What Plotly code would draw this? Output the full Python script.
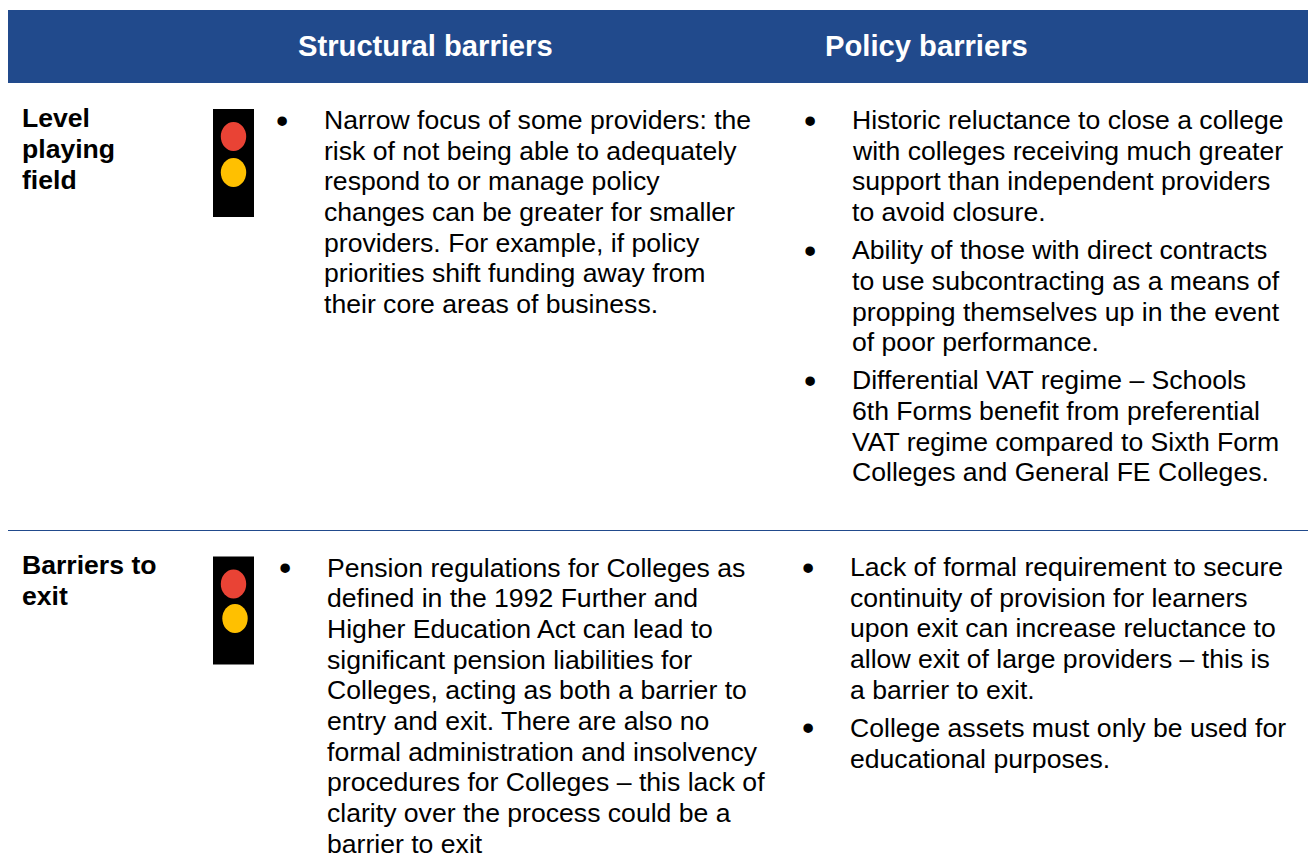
import plotly.graph_objects as go

HEADERS = ["Structural barriers", "Policy barriers"]
ROW_LABELS = [["Level", "playing", "field"], ["Barriers to", "exit"]]

STRUCT_1 = [["Narrow focus of some providers: the", "risk of not being able to adequately",
             "respond to or manage policy", "changes can be greater for smaller",
             "providers. For example, if policy", "priorities shift funding away from",
             "their core areas of business."]]
POLICY_1 = [["Historic reluctance to close a college", "with colleges receiving much greater",
             "support than independent providers", "to avoid closure."],
            ["Ability of those with direct contracts", "to use subcontracting as a means of",
             "propping themselves up in the event", "of poor performance."],
            ["Differential VAT regime \u2013 Schools", "6th Forms benefit from preferential",
             "VAT regime compared to Sixth Form", "Colleges and General FE Colleges."]]
STRUCT_2 = [["Pension regulations for Colleges as", "defined in the 1992 Further and",
             "Higher Education Act can lead to", "significant pension liabilities for",
             "Colleges, acting as both a barrier to", "entry and exit. There are also no",
             "formal administration and insolvency", "procedures for Colleges \u2013 this lack of",
             "clarity over the process could be a", "barrier to exit"]]
POLICY_2 = [["Lack of formal requirement to secure", "continuity of provision for learners",
             "upon exit can increase reluctance to", "allow exit of large providers \u2013 this is",
             "a barrier to exit."],
            ["College assets must only be used for", "educational purposes."]]

# layout constants (pixel space of the page)
W, H = 1308, 867
FONT = "Liberation Sans"
BLUE = "#214A8C"
RED = "#E94335"
AMBER = "#FFC000"
BODY = 26.6
HEAD = 29.2
PITCH = 30.65
GROUP_GAP = 7.6

fig = go.Figure()
shapes = [dict(type="rect", x0=8, x1=1308, y0=10, y1=83, fillcolor=BLUE, line_width=0),
          dict(type="line", x0=8, x1=1308, y0=530.5, y1=530.5, line=dict(color=BLUE, width=1.2))]
ann = []

def text(x, y, s, size=BODY, bold=False, color="#000000"):
    ann.append(dict(x=x, y=y, text=f"<b>{s}</b>" if bold else s, showarrow=False,
                    xanchor="left", yanchor="middle", xref="x", yref="y",
                    font=dict(family=FONT, size=size, color=color),
                    borderpad=0, borderwidth=0, align="left"))

def light(y0, red, amber):
    shapes.append(dict(type="rect", x0=213, x1=254, y0=y0, y1=y0 + 108, fillcolor="#000000", line_width=0))
    for (cx, cy), c in ((red, RED), (amber, AMBER)):
        shapes.append(dict(type="circle", x0=cx - 12.7, x1=cx + 12.7, y0=cy - 14.5, y1=cy + 14.5,
                           fillcolor=c, line_width=0))

def bullets(groups, bx, tx, y):
    for g in groups:
        text(bx, y, "\u2022", size=35)
        for line in g:
            text(tx, y, line)
            y += PITCH
        y += GROUP_GAP

text(298, 46, HEADERS[0], size=HEAD, bold=True, color="#FFFFFF")
text(825, 46, HEADERS[1], size=HEAD, bold=True, color="#FFFFFF")

for i, s in enumerate(ROW_LABELS[0]):
    text(22, 118 + i * 31, s, bold=True)
for i, s in enumerate(ROW_LABELS[1]):
    text(22, 565 + i * 31, s, bold=True)

light(109, (233.5, 136.5), (233.5, 172.5))
light(556.5, (233.5, 584), (235, 618.5))

bullets(STRUCT_1, 275.5, 324, 120)
bullets(POLICY_1, 803.5, 852, 120)
bullets(STRUCT_2, 278.5, 327, 567.7)
bullets(POLICY_2, 801.5, 850, 567)

fig.update_layout(width=W, height=H, margin=dict(l=0, r=0, t=0, b=0),
                  plot_bgcolor="white", paper_bgcolor="white", showlegend=False,
                  xaxis=dict(range=[0, W], visible=False, fixedrange=True),
                  yaxis=dict(range=[H, 0], visible=False, fixedrange=True),
                  shapes=shapes, annotations=ann)
fig.write_html("out.html", config={"displayModeBar": False},
               post_script="document.body.style.margin='0';document.body.style.overflow='hidden';")
